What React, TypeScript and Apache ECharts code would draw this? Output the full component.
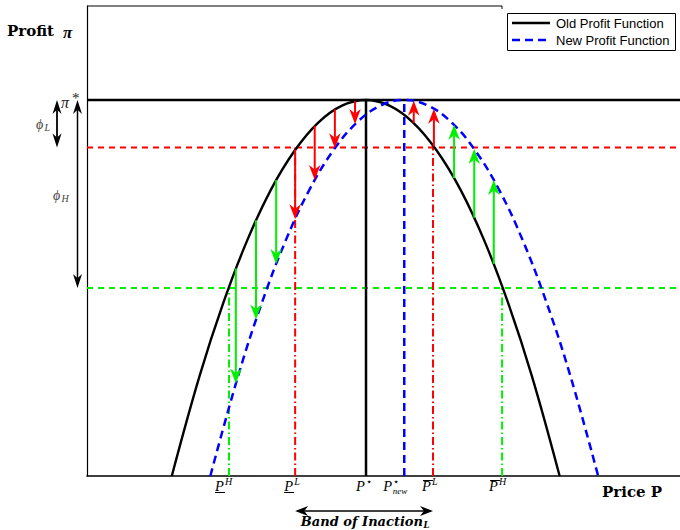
import React, { useEffect, useRef } from "react";
import * as echarts from "echarts";

// ---- axis ranges (price in arbitrary units, profit with pi* = 100) ----
const priceMin = 0;
const priceMax = 100;
const profitMin = 0;
const profitMax = 125;

// ---- profit levels ----
const piStar = 100;
const redLevel = 87.4; // pi* - phi_L
const greenLevel = 50; // pi* - phi_H

// ---- price ticks ----
const tickNames = ["PH_low", "PL_low", "Pstar", "Pnew", "PL_high", "PH_high"];
const tickValues = [23.95, 35.1, 47.05, 53.5, 58.35, 70.0];

// ---- legend ----
const legendNames = ["Old Profit Function", "New Profit Function"];

// ---- old profit function ----
const oldCurveP = [14.3, 19, 23, 27, 31, 35, 39, 43, 47, 51, 55, 59, 63, 67, 71, 75, 79.7];
const oldCurvePi = [0, 26.7, 46.1, 62.6, 76.1, 86.5, 94, 98.5, 100, 98.5, 94, 86.5, 76.1, 62.6, 46.1, 26.7, 0];

// ---- new profit function ----
const newCurveP = [20.8, 25.5, 29.5, 33.5, 37.5, 41.5, 45.5, 49.5, 53.5, 57.5, 61.5, 65.5, 69.5, 73.5, 77.5, 81.5, 86.2];
const newCurvePi = [0, 26.7, 46.1, 62.6, 76.1, 86.5, 94, 98.5, 100, 98.5, 94, 86.5, 76.1, 62.6, 46.1, 26.7, 0];

// ---- adjustment arrows: price, from (old profit), to (new profit) ----
const greenArrowP = [25.1, 28.5, 31.9, 61.9, 65.3, 68.6];
const greenArrowFrom = [55.2, 68.0, 78.7, 79.2, 68.7, 56.4];
const greenArrowTo = [24.6, 41.6, 56.4, 93.4, 87.0, 78.7];

const redArrowP = [35.1, 38.4, 41.8, 45.2, 55.1, 58.5];
const redArrowFrom = [86.8, 93.1, 97.5, 99.7, 93.9, 87.6];
const redArrowTo = [68.3, 78.7, 87.2, 93.6, 99.8, 97.7];

const SERIF = '"Liberation Serif", "DejaVu Serif", serif';
const BOLDSERIF = '"DejaVu Serif", "Liberation Serif", serif';
const SANS = '"Liberation Sans", Arial, sans-serif';
const RED = "#ff0000";
const GREEN = "#00f000";
const BLUE = "#0000ff";

function headPoints(tx: number, ty: number, dx: number, dy: number, w: number, L: number, notch: number) {
  const bx = tx - dx * L;
  const by = ty - dy * L;
  const nx = -dy;
  const ny = dx;
  return [
    [tx, ty],
    [bx + (nx * w) / 2, by + (ny * w) / 2],
    [tx - dx * L * notch, ty - dy * L * notch],
    [bx - (nx * w) / 2, by - (ny * w) / 2],
  ];
}

function arrowEls(x1: number, y1: number, x2: number, y2: number, color: string, lw: number, w: number, L: number, both = false) {
  const len = Math.hypot(x2 - x1, y2 - y1);
  const dx = (x2 - x1) / len;
  const dy = (y2 - y1) / len;
  const notch = 0.7;
  const sx = both ? x1 + dx * L * notch : x1;
  const sy = both ? y1 + dy * L * notch : y1;
  const els: any[] = [
    {
      type: "line",
      silent: true,
      z: 20,
      shape: { x1: sx, y1: sy, x2: x2 - dx * L * notch, y2: y2 - dy * L * notch },
      style: { stroke: color, lineWidth: lw },
    },
    { type: "polygon", silent: true, z: 20, shape: { points: headPoints(x2, y2, dx, dy, w, L, notch) }, style: { fill: color } },
  ];
  if (both) {
    els.push({ type: "polygon", silent: true, z: 20, shape: { points: headPoints(x1, y1, -dx, -dy, w, L, notch) }, style: { fill: color } });
  }
  return els;
}

function arrowSeries(P: number[], from: number[], to: number[], color: string) {
  return {
    type: "custom",
    coordinateSystem: "cartesian2d",
    silent: true,
    z: 6,
    data: P.map((p, i) => [p, from[i], to[i]]),
    encode: { x: 0, y: [1, 2] },
    renderItem: (_params: any, api: any) => {
      const x = api.value(0);
      const a = api.coord([x, api.value(1)]);
      const b = api.coord([x, api.value(2)]);
      return { type: "group", children: arrowEls(a[0], a[1], b[0], b[1], color, 2, 11.5, 15) };
    },
  };
}

function segment(name: string, data: number[][], color: string, width: number, type: any, z = 2) {
  return {
    name,
    type: "line",
    data,
    symbol: "none",
    silent: true,
    z,
    lineStyle: { color, width, type },
  };
}

function txt(x: number, y: number, text: string, size: number, o: any = {}) {
  const align = o.align ?? "left";
  return {
    type: "text",
    x,
    y,
    silent: true,
    z: 20,
    style: {
      text,
      fontSize: size,
      fontFamily: o.family ?? SERIF,
      fontStyle: o.italic === false ? "normal" : "italic",
      fontWeight: o.bold ? "bold" : "normal",
      fill: o.color ?? "#000",
      align,
      textAlign: align,
      verticalAlign: "middle",
      textVerticalAlign: "middle",
    },
  };
}

function hline(x1: number, x2: number, y: number, w = 1, color = "#000", dash: any = null) {
  return {
    type: "line",
    silent: true,
    z: 20,
    shape: { x1, y1: y, x2, y2: y },
    style: { stroke: color, lineWidth: w, lineDash: dash },
  };
}

export default function App() {
  const ref = useRef<HTMLDivElement>(null);

  useEffect(() => {
    if (!ref.current) return;
    document.body.style.margin = "0";
    document.body.style.overflow = "hidden";
    const chart = echarts.init(ref.current, undefined, { renderer: "svg" });
    const tv = (n: string) => tickValues[tickNames.indexOf(n)];
    const dashDot = [8, 3, 1.5, 3];

    const option: any = {
      animation: false,
      backgroundColor: "#fff",
      grid: { left: 87, top: 6, right: 0, bottom: 54, containLabel: false },
      xAxis: {
        type: "value",
        min: priceMin,
        max: priceMax,
        axisLine: { show: true, onZero: false, lineStyle: { color: "#000", width: 1.5 } },
        axisTick: { show: false },
        axisLabel: { show: false },
        splitLine: { show: false },
      },
      yAxis: {
        type: "value",
        min: profitMin,
        max: profitMax,
        axisLine: { show: true, onZero: false, lineStyle: { color: "#000", width: 1.2 } },
        axisTick: { show: false },
        axisLabel: { show: false },
        splitLine: { show: false },
      },
      series: [
        {
          name: legendNames[0],
          type: "line",
          data: oldCurveP.map((p, i) => [p, oldCurvePi[i]]),
          smooth: 0.4,
          symbol: "none",
          silent: true,
          z: 4,
          lineStyle: { color: "#000", width: 2.4 },
          itemStyle: { color: "#000" },
        },
        {
          name: legendNames[1],
          type: "line",
          data: newCurveP.map((p, i) => [p, newCurvePi[i]]),
          smooth: 0.4,
          symbol: "none",
          silent: true,
          z: 4,
          lineStyle: { color: BLUE, width: 2.5, type: [8, 5] },
          itemStyle: { color: BLUE },
        },
        segment("piStarLine", [[priceMin, piStar], [priceMax, piStar]], "#000", 2.6, "solid", 3),
        segment("redLevelLine", [[priceMin, redLevel], [priceMax, redLevel]], RED, 2, [6, 5]),
        segment("greenLevelLine", [[priceMin, greenLevel], [priceMax, greenLevel]], GREEN, 2, [6, 5]),
        segment("PstarLine", [[tv("Pstar"), profitMin], [tv("Pstar"), piStar]], "#000", 2.5, "solid", 3),
        segment("PnewLine", [[tv("Pnew"), profitMin], [tv("Pnew"), piStar]], BLUE, 2.5, [8, 5], 3),
        segment("PLlowLine", [[tv("PL_low"), profitMin], [tv("PL_low"), redLevel]], RED, 2, dashDot),
        segment("PLhighLine", [[tv("PL_high"), profitMin], [tv("PL_high"), redLevel]], RED, 2, dashDot),
        segment("PHlowLine", [[tv("PH_low"), profitMin], [tv("PH_low"), greenLevel]], GREEN, 2, dashDot),
        segment("PHhighLine", [[tv("PH_high"), profitMin], [tv("PH_high"), greenLevel]], GREEN, 2, dashDot),
        arrowSeries(greenArrowP, greenArrowFrom, greenArrowTo, GREEN),
        arrowSeries(redArrowP, redArrowFrom, redArrowTo, RED),
      ],
    };
    chart.setOption(option);

    const px = (x: number, y: number) => chart.convertToPixel({ gridIndex: 0 }, [x, y]) as number[];
    const left = px(priceMin, piStar)[0];
    const yPi = px(priceMin, piStar)[1];
    const yRed = px(priceMin, redLevel)[1];
    const yGreen = px(priceMin, greenLevel)[1];
    const yTop = px(priceMin, profitMax)[1];
    const yBottom = px(priceMin, profitMin)[1];
    const xt = (n: string) => px(tv(n), profitMin)[0];

    const g: any[] = [];
    // top border (stops before the legend)
    g.push(hline(left, 502, yTop, 1.2));
    g.push({ type: "line", silent: true, z: 20, shape: { x1: 502, y1: yTop, x2: 502, y2: yTop + 3 }, style: { stroke: "#000", lineWidth: 1 } });

    // legend box
    g.push({
      type: "rect",
      silent: true,
      z: 19,
      shape: { x: 507.5, y: 13.5, width: 168, height: 37 },
      style: { fill: "#fff", stroke: "#000", lineWidth: 1 },
    });
    g.push(hline(512, 550, 23, 2.4, "#000"));
    g.push(hline(512, 550, 40, 2.4, BLUE, [8, 5]));
    g.push(txt(556, 23, legendNames[0], 13, { family: SANS, italic: false }));
    g.push(txt(556, 40, legendNames[1], 13, { family: SANS, italic: false }));

    // titles
    g.push(txt(7, 31, "Profit", 15, { bold: true, italic: false, family: BOLDSERIF }));
    g.push(txt(63, 32, "π", 17, { bold: true, family: SERIF }));
    g.push(txt(602, 492, "Price P", 15, { bold: true, italic: false, family: BOLDSERIF }));

    // pi* label
    g.push(txt(left - 26, yPi + 2, "π", 16, { color: "#222" }));
    g.push(txt(left - 15, yPi - 2, "*", 15, { color: "#222", italic: false }));

    // phi_L and phi_H double arrows
    g.push(...arrowEls(left - 30, yPi, left - 30, yRed, "#000", 1.8, 9, 14, true));
    g.push(...arrowEls(left - 9.5, yPi, left - 9.5, yGreen, "#000", 1.5, 9, 14, true));
    g.push(txt(36, (yPi + yRed) / 2 + 1, "ϕ", 14, { color: "#444" }));
    g.push(txt(44.5, (yPi + yRed) / 2 + 4, "L", 10, { color: "#444" }));
    g.push(txt(53, (yPi + yGreen) / 2 + 1, "ϕ", 14, { color: "#444" }));
    g.push(txt(61.5, (yPi + yGreen) / 2 + 4, "H", 10, { color: "#444" }));

    // price tick labels
    const yP = yBottom + 10;
    const yS = yBottom + 5;
    const pSize = 14.5;
    const sSize = 10;
    // P^H underlined
    let x0 = xt("PH_low") - 14;
    g.push(txt(x0, yP, "P", pSize));
    g.push(txt(x0 + 10, yS, "H", sSize));
    g.push(hline(x0, x0 + 10, yBottom + 16.5, 1));
    // P^L underlined
    x0 = xt("PL_low") - 11;
    g.push(txt(x0, yP, "P", pSize));
    g.push(txt(x0 + 10, yS, "L", sSize));
    g.push(hline(x0, x0 + 10, yBottom + 16.5, 1));
    // P*
    x0 = xt("Pstar") - 10;
    g.push(txt(x0, yP, "P", pSize));
    g.push(txt(x0 + 9.5, yS, "⋆", sSize, { italic: false }));
    // P*_new
    x0 = xt("Pnew") - 21;
    g.push(txt(x0, yP, "P", pSize));
    g.push(txt(x0 + 9.5, yS, "⋆", sSize, { italic: false }));
    g.push(txt(x0 + 9.5, yBottom + 14.5, "new", 9));
    // P-bar^L
    x0 = xt("PL_high") - 11;
    g.push(txt(x0, yP, "P", pSize));
    g.push(txt(x0 + 10, yS, "L", sSize));
    g.push(hline(x0 + 1, x0 + 11, yBottom + 4.5, 1));
    // P-bar^H
    x0 = xt("PH_high") - 13;
    g.push(txt(x0, yP, "P", pSize));
    g.push(txt(x0 + 10, yS, "H", sSize));
    g.push(hline(x0 + 1, x0 + 11, yBottom + 4.5, 1));

    // band of inaction
    const bandY = yBottom + 35;
    g.push(...arrowEls(xt("PL_low"), bandY, xt("PL_high"), bandY, "#000", 1.5, 10, 13, true));
    g.push(txt(423, bandY + 10, "Band of Inaction", 13, { bold: true, family: BOLDSERIF, align: "right" }));
    g.push(txt(423.5, bandY + 13.5, "L", 8.5, { bold: true, family: BOLDSERIF }));

    chart.setOption({ graphic: g });

    return () => chart.dispose();
  }, []);

  return <div ref={ref} style={{ position: "absolute", left: 0, top: 0, width: 680, height: 530 }} />;
}
